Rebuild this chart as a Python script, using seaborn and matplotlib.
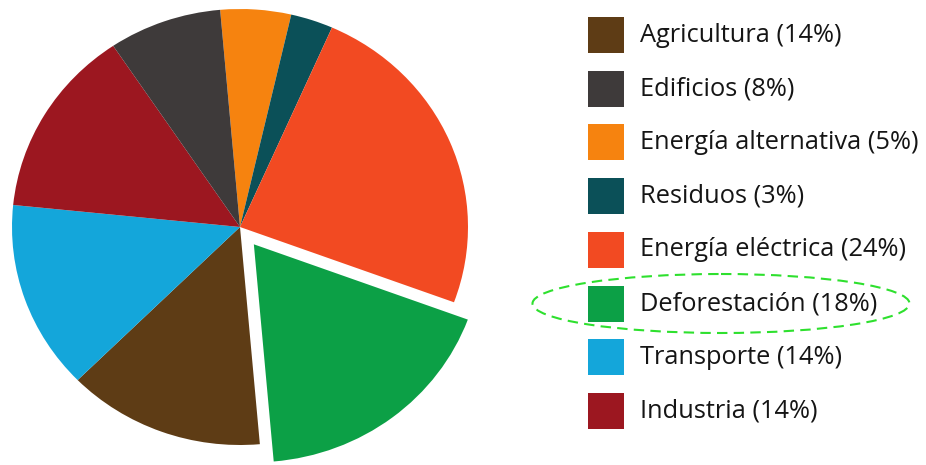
import matplotlib
matplotlib.use("Agg")
import matplotlib.pyplot as plt
from matplotlib.patches import Ellipse, Rectangle
import seaborn as sns

sns.set_theme(style="white")
plt.rcParams["font.family"] = ["Open Sans", "DejaVu Sans"]

# legend order
sectors = ["Agricultura", "Edificios", "Energía alternativa", "Residuos",
           "Energía eléctrica", "Deforestación", "Transporte", "Industria"]
shares = [14, 8, 5, 3, 24, 18, 14, 14]
colors = ["#5e3c15", "#3e3a3a", "#f6830f", "#0b5058",
          "#f24a22", "#0ca046", "#14a6da", "#9c1720"]
highlight = "Deforestación"

# clockwise order of the wedges, starting just left of the top
pie_order = ["Energía alternativa", "Residuos", "Energía eléctrica",
             "Deforestación", "Agricultura", "Transporte", "Industria", "Edificios"]

W, H = 926, 465
fig = plt.figure(figsize=(W / 100, H / 100), dpi=100)
fig.patch.set_facecolor("white")

## PIE
ax = fig.add_axes([0, 0, 480 / W, 1])
idx = [sectors.index(s) for s in pie_order]
ax.pie([shares[i] for i in idx],
       colors=[colors[i] for i in idx],
       explode=[0.1 if sectors[i] == highlight else 0 for i in idx],
       startangle=95, counterclock=False,
       wedgeprops=dict(linewidth=0))
ax.set_aspect("auto")
ax.set_xlim(-240 / 228, 240 / 228)
ax.set_ylim(-(H - 227) / 218, 227 / 218)
ax.axis("off")

## LEGEND
lax = fig.add_axes([0, 0, 1, 1])
lax.set_xlim(0, W)
lax.set_ylim(H, 0)
lax.axis("off")
row_y0, row_step = 35, 53.7
for k, (name, val, col) in enumerate(zip(sectors, shares, colors)):
    y = row_y0 + k * row_step
    lax.add_patch(Rectangle((588, y - 18), 36, 36, facecolor=col, edgecolor="none"))
    lax.text(640, y, f"{name} ({val}%)", fontsize=18.3, color="#151515",
             va="center", ha="left")
    if name == highlight:
        lax.add_patch(Ellipse((721, y), 377, 59, facecolor="none",
                              edgecolor="#2ee02e", linewidth=1.5,
                              linestyle=(0, (5, 3))))

fig.savefig("out.png", dpi=100, facecolor="white")
